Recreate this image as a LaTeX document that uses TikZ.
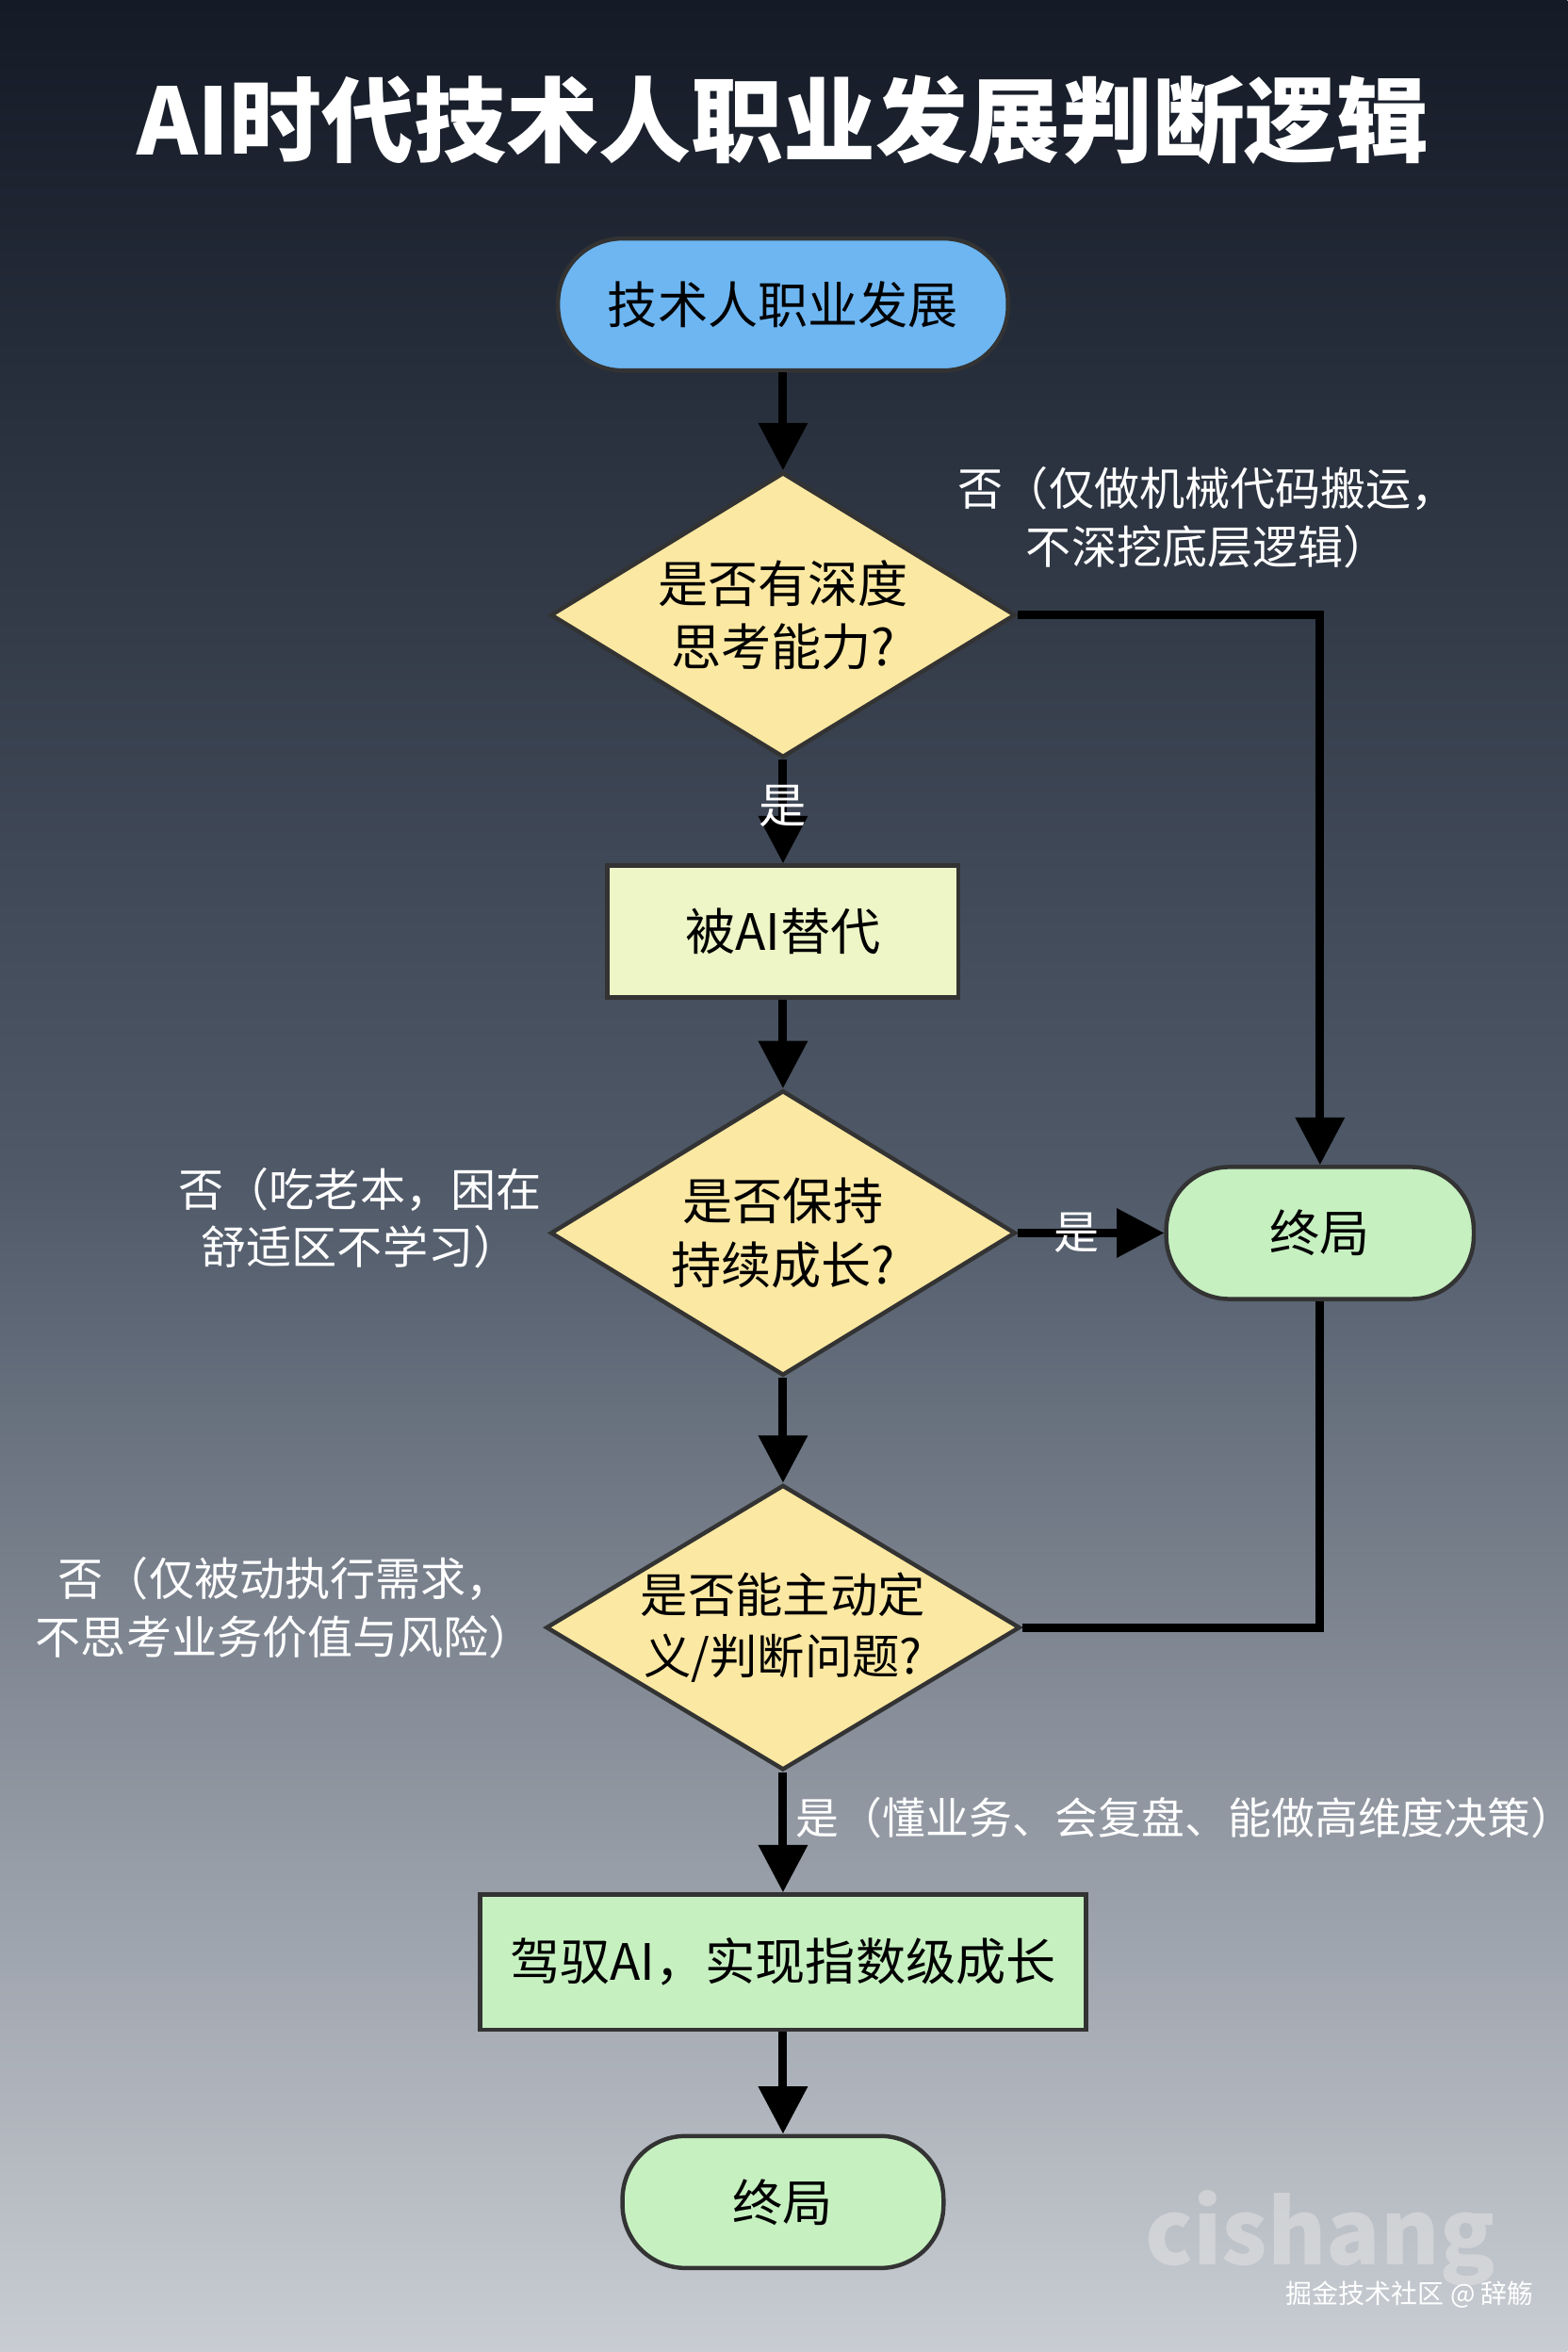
\documentclass[tikz,border=0pt]{standalone}
\usepackage{fontspec}
\setmainfont{Noto Sans CJK SC}
\usepackage{tikz}
\usetikzlibrary{shapes.geometric, arrows.meta, positioning, calc}
\definecolor{nightnavy}{HTML}{141A26}
\definecolor{duskslate}{HTML}{4F5968}
\definecolor{mistgray}{HTML}{C9CDD3}
\definecolor{startblue}{HTML}{6DB6F2}
\definecolor{askyellow}{HTML}{FBE8A2}
\definecolor{paleolive}{HTML}{EEF5C6}
\definecolor{endgreen}{HTML}{C6F0C0}

\tikzset{
  flow/.style={draw=black, line width=1.6pt, -{Triangle[length=9pt,width=9pt]}},
  wire/.style={draw=black, line width=1.6pt},
  ask/.style={diamond, aspect=1.63, draw=black!80, line width=0.8pt, fill=askyellow,
    inner sep=0pt, minimum width=3.1cm, minimum height=1.9cm, align=center,
    font=\fontsize{9.5}{12}\selectfont},
  stage/.style={rectangle, draw=black!80, line width=0.8pt, align=center,
    minimum height=0.88cm, font=\fontsize{9.5}{12}\selectfont},
  term/.style={rectangle, rounded corners=0.42cm, draw=black!80, line width=0.8pt,
    minimum height=0.88cm, font=\fontsize{9.5}{12}\selectfont},
  note/.style={white, align=center, font=\fontsize{8.6}{11}\selectfont}
}

\begin{document}
\begin{tikzpicture}
  % Background gradient
  \shade[top color=nightnavy, bottom color=mistgray, middle color=duskslate]
    (0,0) rectangle (10.45,-15.68);
  \useasboundingbox (0,0) rectangle (10.45,-15.68);

  % Title
  \node[white, font=\fontsize{17.5}{21}\selectfont\bfseries] (title) at (5.22,-0.8) {AI时代技术人职业发展判断逻辑};

  % Flow nodes
  \node[term, fill=startblue, minimum width=3.0cm, rounded corners=0.43cm] (start) at (5.22,-2.03) {技术人职业发展};
  \node[ask] (deep) at (5.22,-4.1) {是否有深度\\思考能力?};
  \node[stage, fill=paleolive, minimum width=2.34cm] (replaced) at (5.22,-6.21) {被AI替代};
  \node[ask] (grow) at (5.22,-8.22) {是否保持\\持续成长?};
  \node[term, fill=endgreen, minimum width=2.05cm] (endright) at (8.8,-8.22) {终局};
  \node[ask, minimum width=3.16cm, font=\fontsize{9}{11.5}\selectfont] (define) at (5.22,-10.85) {是否能主动定\\义/判断问题?};
  \node[stage, fill=endgreen, minimum width=4.04cm, minimum height=0.9cm] (master) at (5.22,-13.08) {驾驭AI，实现指数级成长};
  \node[term, fill=endgreen, minimum width=2.14cm] (endbottom) at (5.22,-14.68) {终局};

  % Connectors
  \draw[flow] (start) -- (deep);
  \draw[flow] (deep) -- node[text=white, font=\fontsize{9}{11}\selectfont, pos=0.45] (yesone) {是} (replaced);
  \draw[flow] (replaced) -- (grow);
  \draw[flow] (deep.east) -| (endright.north);
  \draw[flow] (grow.east) -- node[note, pos=0.4] (yestwo) {是} (endright.west);
  \draw[flow] (grow) -- (define);
  \draw[wire] (define.east) -| (endright.south);
  \draw[flow] (define) -- (master);
  \draw[flow] (master) -- (endbottom);

  % Side labels
  \node[note] (nodeep) at (8.05,-3.45) {否（仅做机械代码搬运，\\不深挖底层逻辑）};
  \node[note] (nogrow) at (2.4,-8.12) {否（吃老本，困在\\舒适区不学习）};
  \node[note] (nodefine) at (1.9,-10.72) {否（仅被动执行需求，\\不思考业务价值与风险）};
  \node[note, font=\fontsize{8.2}{10}\selectfont] (yesdefine) at (7.9,-12.12) {是（懂业务、会复盘、能做高维度决策）};

  % Watermark
  \node[white!80!gray, font=\fontsize{17}{20}\selectfont\bfseries, opacity=0.5] (mark) at (8.8,-14.92) {cishang};
  \node[white, font=\fontsize{5}{6}\selectfont] (site) at (9.4,-15.3) {掘金技术社区 @ 辞觞};
\end{tikzpicture}
\end{document}
